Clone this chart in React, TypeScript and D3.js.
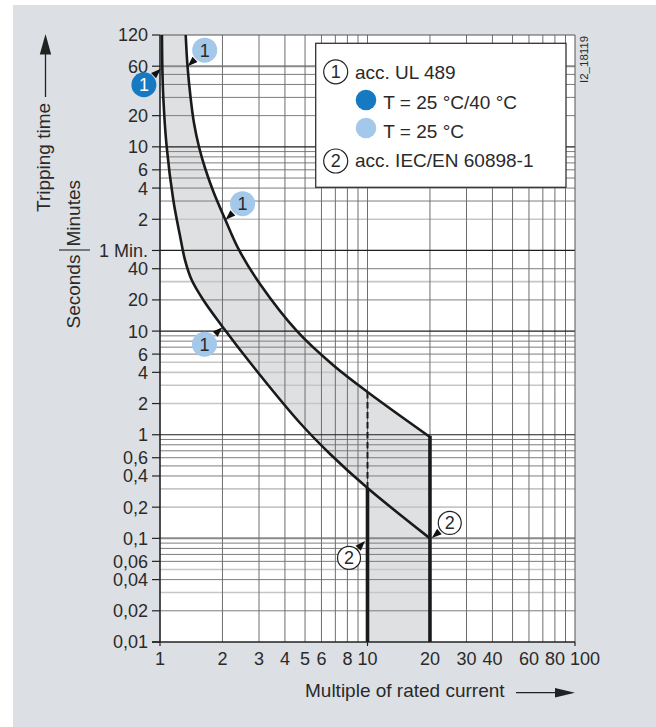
import React from 'react';
import * as d3 from 'd3';

const W = 656;
const H = 727;

// Axis ticks
const xTickValues = [1, 2, 3, 4, 5, 6, 8, 10, 20, 30, 40, 60, 80, 100];
const xTickNudge = [0, 0, 0, 0, 0, 0, 0, 0, 0, 0, 0, 0, 0, 10];
const xGridValues = [2, 3, 4, 5, 6, 7, 8, 9, 10, 20, 30, 40, 50, 60, 70, 80, 90];
const xAxisTickMarks = [1, 10, 100];

// tripping time in seconds
const yTickValues = [7200, 3600, 1200, 600, 360, 240, 120, 60, 40, 20, 10, 6, 4, 2, 1, 0.6, 0.4, 0.2, 0.1, 0.06, 0.04, 0.02, 0.01];
const yTickLabels = ['120', '60', '20', '10', '6', '4', '2', '1 Min.', '40', '20', '10', '6', '4', '2', '1', '0,6', '0,4', '0,2', '0,1', '0,06', '0,04', '0,02', '0,01'];

const gridDark = [600, 60, 10, 1];
const gridThick = [3600, 0.1];
const gridMedium = [3000, 2400, 1800, 1200, 540, 480, 420, 360, 300, 240, 180, 40, 20, 9, 8, 7, 6, 0.9, 0.8, 0.7, 0.6, 0.5, 0.4, 0.09, 0.08, 0.07, 0.06, 0.04, 0.02];
const gridLight = [120, 30, 5, 4, 3, 2, 0.3, 0.2, 0.05, 0.03];

// Lower / left characteristic
const curveAMultiples = [1.022, 1.026, 1.037, 1.077, 1.159, 1.249, 1.32, 1.422, 1.617, 2.005, 3.033, 4.73, 6.6, 10, 20];
const curveATimes = [7200, 3600, 1816, 598, 184, 82.8, 48.5, 31.1, 19.95, 10.97, 3.77, 1.298, 0.652, 0.306, 0.1];

// Upper / right characteristic
const curveBMultiples = [1.33, 1.357, 1.403, 1.458, 1.542, 1.648, 1.811, 2.057, 2.403, 3.033, 4.574, 6.82, 10, 20];
const curveBTimes = [7200, 3600, 1816, 1019, 598, 375, 220, 120.8, 60.7, 28.5, 10, 4.71, 2.585, 0.951];

// IEC/EN 60898-1 instantaneous limits
const iecLowMultiple = 10;
const iecHighMultiple = 20;
const timeFloor = 0.01;

// Callouts: target point in data coords, label
const calloutLabels = ['1', '1', '1', '1', '2', '2'];
const calloutKinds = ['dark', 'light', 'light', 'light', 'white', 'white'];
const calloutMultiples = [1.01, 1.36, 2.07, 2.0, 9.73, 20.4];
const calloutTimes = [3400, 3600, 119, 10.9, 0.0945, 0.101];
const calloutDx = [-17, 17, 17, -18, -16, 18];
const calloutDy = [16, -16, -16, 17, 17, -15];

const FONT = '"Liberation Sans", Arial, Helvetica, sans-serif';
const TEXT = '#2a2a2a';
const DARK_BLUE = '#1779c2';
const LIGHT_BLUE = '#a3c8ea';

export default function App() {
  const left = 160, right = 575, top = 35, bottom = 642;
  const x = d3.scaleLog().domain([1, 100]).range([left, right]);
  const y = d3.scaleLog().domain([0.01, 7200]).range([bottom, top]);

  const ptsA: [number, number][] = curveAMultiples.map((m, i) => [m, curveATimes[i]]);
  const ptsB: [number, number][] = curveBMultiples.map((m, i) => [m, curveBTimes[i]]);
  const line = d3.line<[number, number]>()
    .x(d => x(d[0]))
    .y(d => y(d[1]))
    .curve(d3.curveCatmullRom.alpha(0.5));

  const idx10 = curveAMultiples.indexOf(iecLowMultiple);
  const aAt10 = curveATimes[idx10];
  const bAt10 = curveBTimes[curveBMultiples.indexOf(iecLowMultiple)];
  const bEnd = curveBTimes[curveBTimes.length - 1];

  const fillPath =
    (line(ptsA.slice(0, idx10 + 1)) as string) +
    `L${x(iecLowMultiple)},${y(timeFloor)}L${x(iecHighMultiple)},${y(timeFloor)}L${x(iecHighMultiple)},${y(bEnd)}` +
    (line(ptsB.slice().reverse()) as string).replace(/^M/, 'L') + 'Z';

  const hLine = (v: number, stroke: string, sw: number, key: string) => (
    <line key={key} x1={left} x2={right} y1={y(v)} y2={y(v)} stroke={stroke} strokeWidth={sw} />
  );

  const arrowHead = (tx: number, ty: number, cx: number, cy: number, len = 10, hw = 3.6) => {
    const dx = cx - tx, dy = cy - ty;
    const d = Math.sqrt(dx * dx + dy * dy);
    const ux = dx / d, uy = dy / d;
    const bx = tx + ux * len, by = ty + uy * len;
    const px = -uy, py = ux;
    return `M${tx},${ty}L${bx + px * hw},${by + py * hw}L${bx - px * hw},${by - py * hw}Z`;
  };

  return (
    <svg width={W} height={H} style={{ position: 'absolute', left: 0, top: 0, display: 'block' }} fontFamily={FONT}>
      <defs>
        <clipPath id="plotClip">
          <rect x={left} y={top} width={right - left} height={bottom - top} />
        </clipPath>
      </defs>
      <rect x={0} y={0} width={W} height={H} fill="#ffffff" />
      <rect x={13} y={5} width={W - 13} height={H - 5} fill="#dce0e4" />
      <rect x={left} y={top} width={right - left} height={bottom - top} fill="#ffffff" />

      {/* band fill */}
      <path d={fillPath} fill="#dfe0e2" clipPath="url(#plotClip)" />

      {/* grid */}
      <g>
        {gridLight.map((v, i) => hLine(v, '#c6c6c6', 1.6, 'gl' + i))}
        {gridMedium.map((v, i) => hLine(v, '#7d7d7d', 1, 'gm' + i))}
        {gridThick.map((v, i) => hLine(v, '#8a8a8a', 2, 'gt' + i))}
        {xGridValues.map((v, i) => (
          <line key={'vx' + i} x1={x(v)} x2={x(v)} y1={top} y2={bottom} stroke="#6e6e6e" strokeWidth={1} />
        ))}
        {gridDark.map((v, i) => hLine(v, '#1e1e1e', 1.2, 'gd' + i))}
        <line x1={left} x2={right} y1={top} y2={top} stroke="#555" strokeWidth={1} />
        <line x1={right} x2={right} y1={top} y2={bottom} stroke="#555" strokeWidth={1} />
      </g>

      {/* legend */}
      <g>
        <rect x={315.7} y={43.3} width={250.3} height={144} fill="#fff" stroke="#333" strokeWidth={1.3} />
        <circle cx={335.7} cy={71.8} r={12} fill="#fff" stroke="#222" strokeWidth={1.2} />
        <text x={335.7} y={71.8} dy="0.36em" textAnchor="middle" fontSize={18} fill={TEXT}>1</text>
        <text x={355} y={79} fontSize={19} fill={TEXT}>acc. UL 489</text>
        <circle cx={366} cy={100} r={10.3} fill={DARK_BLUE} />
        <text x={383.3} y={109.3} fontSize={19} fill={TEXT}>T = 25 °C/40 °C</text>
        <circle cx={366} cy={128} r={10.3} fill={LIGHT_BLUE} />
        <text x={383.3} y={138.3} fontSize={19} fill={TEXT}>T = 25 °C</text>
        <circle cx={335.7} cy={161} r={12} fill="#fff" stroke="#222" strokeWidth={1.2} />
        <text x={335.7} y={161} dy="0.36em" textAnchor="middle" fontSize={18} fill={TEXT}>2</text>
        <text x={355} y={167.3} fontSize={19} fill={TEXT}>acc. IEC/EN 60898-1</text>
      </g>

      {/* curves */}
      <g clipPath="url(#plotClip)">
        <path d={line(ptsA) as string} fill="none" stroke="#1a1a1a" strokeWidth={2.6} />
        <path d={line(ptsB) as string} fill="none" stroke="#1a1a1a" strokeWidth={2.6} />
      </g>
      <line x1={x(iecLowMultiple)} x2={x(iecLowMultiple)} y1={y(bAt10)} y2={y(aAt10)} stroke="#1a1a1a" strokeWidth={2} strokeDasharray="6.5,3.5" />
      <line x1={x(iecLowMultiple)} x2={x(iecLowMultiple)} y1={y(aAt10)} y2={y(timeFloor)} stroke="#1a1a1a" strokeWidth={3.6} />
      <line x1={x(iecHighMultiple)} x2={x(iecHighMultiple)} y1={y(bEnd) - 1.2} y2={y(timeFloor)} stroke="#1a1a1a" strokeWidth={3.6} />

      {/* axes */}
      <line x1={left} x2={left} y1={top} y2={bottom} stroke="#222" strokeWidth={1.6} />
      <line x1={152} x2={right} y1={bottom} y2={bottom} stroke="#222" strokeWidth={1.6} />
      {yTickValues.map((v, i) => (
        <g key={'yt' + i}>
          <line x1={152} x2={left} y1={y(v)} y2={y(v)} stroke="#222" strokeWidth={1.2} />
          <text x={148} y={y(v)} dy="0.36em" textAnchor="end" fontSize={18} fill={TEXT}>{yTickLabels[i]}</text>
        </g>
      ))}
      {xAxisTickMarks.map((v, i) => (
        <line key={'xm' + i} x1={x(v)} x2={x(v)} y1={bottom} y2={bottom + 4} stroke="#222" strokeWidth={1.2} />
      ))}
      {xTickValues.map((v, i) => (
        <text key={'xt' + i} x={x(v) + xTickNudge[i]} y={665} textAnchor="middle" fontSize={18} fill={TEXT}>{String(v)}</text>
      ))}

      {/* callouts */}
      {calloutLabels.map((lab, i) => {
        const tx = x(calloutMultiples[i]);
        const ty = y(calloutTimes[i]);
        const cx = tx + calloutDx[i];
        const cy = ty + calloutDy[i];
        const kind = calloutKinds[i];
        const fill = kind === 'dark' ? DARK_BLUE : kind === 'light' ? LIGHT_BLUE : '#fff';
        return (
          <g key={'co' + i}>
            <path d={arrowHead(tx, ty, cx, cy)} fill="#111" />
            <circle cx={cx} cy={cy} r={kind === 'white' ? 11.5 : 12.5} fill={fill}
              stroke={kind === 'white' ? '#222' : 'none'} strokeWidth={1.2} />
            <text x={cx} y={cy} dy="0.36em" textAnchor="middle" fontSize={18}
              fill={kind === 'dark' ? '#fff' : TEXT}>{lab}</text>
          </g>
        );
      })}

      {/* axis titles */}
      <text transform="translate(50,212) rotate(-90)" fontSize={19} fill={TEXT}>Tripping time</text>
      <line x1={45.5} x2={45.5} y1={97} y2={52} stroke="#222" strokeWidth={1.3} />
      <path d="M45.5,34 L39.8,54.5 L51.2,54.5 Z" fill="#222" />
      <text transform="translate(80,246.5) rotate(-90)" fontSize={19} fill={TEXT}>Minutes</text>
      <text transform="translate(80,328.5) rotate(-90)" fontSize={19} fill={TEXT}>Seconds</text>
      <line x1={59} x2={90} y1={250} y2={250} stroke="#333" strokeWidth={1.2} />

      <text x={305} y={697} fontSize={19} fill={TEXT}>Multiple of rated current</text>
      <line x1={516} x2={558} y1={692.7} y2={692.7} stroke="#222" strokeWidth={1.3} />
      <path d="M575,692.7 L555,688 L555,697.4 Z" fill="#222" />

      <text transform="translate(588,83) rotate(-90)" fontSize={11.5} fill={TEXT}>I2_18119</text>
    </svg>
  );
}
